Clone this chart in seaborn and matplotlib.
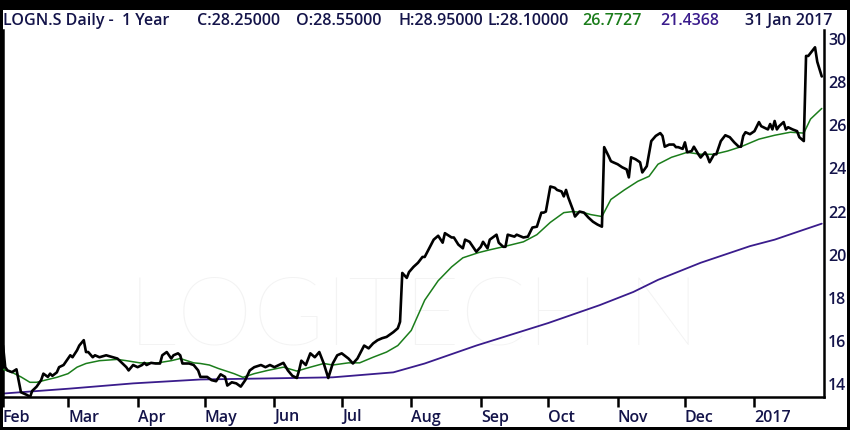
import pandas as pd
import matplotlib
matplotlib.use("Agg")
import matplotlib.pyplot as plt
from matplotlib.patches import Rectangle
import seaborn as sns

# ---- data ----
close_dates = [
    "2016-02-01", "2016-02-02", "2016-02-03", "2016-02-05", "2016-02-07", "2016-02-09", "2016-02-12",
    "2016-02-13", "2016-02-14", "2016-02-16", "2016-02-18", "2016-02-19", "2016-02-21", "2016-02-22",
    "2016-02-23", "2016-02-25", "2016-02-26", "2016-02-28",
    "2016-03-01", "2016-03-02", "2016-03-03", "2016-03-05", "2016-03-06", "2016-03-08", "2016-03-09",
    "2016-03-10", "2016-03-12", "2016-03-13", "2016-03-15", "2016-03-18", "2016-03-21", "2016-03-23",
    "2016-03-25", "2016-03-27", "2016-03-28", "2016-03-30",
    "2016-04-01", "2016-04-03", "2016-04-04", "2016-04-05", "2016-04-07", "2016-04-09", "2016-04-11",
    "2016-04-12", "2016-04-14", "2016-04-16", "2016-04-17", "2016-04-19", "2016-04-20", "2016-04-21",
    "2016-04-24", "2016-04-26", "2016-04-28", "2016-04-29", "2016-04-30",
    "2016-05-02", "2016-05-04", "2016-05-06", "2016-05-08", "2016-05-10", "2016-05-11", "2016-05-13",
    "2016-05-15", "2016-05-17", "2016-05-19", "2016-05-21", "2016-05-23", "2016-05-26", "2016-05-28",
    "2016-05-30",
    "2016-06-01", "2016-06-05", "2016-06-07", "2016-06-09", "2016-06-11", "2016-06-12", "2016-06-13",
    "2016-06-15", "2016-06-17", "2016-06-19", "2016-06-21", "2016-06-23", "2016-06-25", "2016-06-27",
    "2016-06-29",
    "2016-07-01", "2016-07-04", "2016-07-06", "2016-07-08", "2016-07-11", "2016-07-13", "2016-07-15",
    "2016-07-17", "2016-07-19", "2016-07-21", "2016-07-24", "2016-07-26", "2016-07-27", "2016-07-28",
    "2016-07-30", "2016-07-31",
    "2016-08-02", "2016-08-04", "2016-08-06", "2016-08-07", "2016-08-09", "2016-08-11", "2016-08-13",
    "2016-08-15", "2016-08-16", "2016-08-19", "2016-08-20", "2016-08-22", "2016-08-24", "2016-08-25",
    "2016-08-27", "2016-08-30",
    "2016-09-01", "2016-09-02", "2016-09-04", "2016-09-05", "2016-09-08", "2016-09-09", "2016-09-11",
    "2016-09-12", "2016-09-13", "2016-09-16", "2016-09-17", "2016-09-20", "2016-09-22", "2016-09-24",
    "2016-09-26", "2016-09-27", "2016-09-28", "2016-09-29", "2016-09-30",
    "2016-10-02", "2016-10-04", "2016-10-05", "2016-10-07", "2016-10-08", "2016-10-09", "2016-10-10",
    "2016-10-12", "2016-10-13", "2016-10-15", "2016-10-17", "2016-10-19", "2016-10-21", "2016-10-23",
    "2016-10-25", "2016-10-26", "2016-10-28", "2016-10-29", "2016-10-30",
    "2016-11-01", "2016-11-03", "2016-11-05", "2016-11-06", "2016-11-07", "2016-11-09", "2016-11-11",
    "2016-11-12", "2016-11-14", "2016-11-16", "2016-11-18", "2016-11-20", "2016-11-21", "2016-11-22",
    "2016-11-24", "2016-11-26", "2016-11-27", "2016-11-28", "2016-11-30",
    "2016-12-01", "2016-12-02", "2016-12-04", "2016-12-05", "2016-12-07", "2016-12-08", "2016-12-10",
    "2016-12-11", "2016-12-12", "2016-12-14", "2016-12-15", "2016-12-17", "2016-12-19", "2016-12-21",
    "2016-12-23", "2016-12-25", "2016-12-26", "2016-12-27", "2016-12-28", "2016-12-30",
    "2017-01-01", "2017-01-03", "2017-01-04", "2017-01-05", "2017-01-07", "2017-01-08", "2017-01-09",
    "2017-01-10", "2017-01-11", "2017-01-12", "2017-01-14", "2017-01-15", "2017-01-16", "2017-01-18",
    "2017-01-20", "2017-01-21", "2017-01-23", "2017-01-24", "2017-01-25", "2017-01-28", "2017-01-29",
    "2017-01-31",
]
close_vals = [
    15.8, 14.8, 14.65, 14.57, 14.7, 13.64, 13.5, 13.4, 13.7, 13.9, 14.2, 14.5, 14.35, 14.5,
    14.4, 14.56, 14.8, 14.9,
    15.2, 15.35, 15.26, 15.58, 15.8, 16.05, 15.5, 15.5, 15.26, 15.35, 15.26, 15.35, 15.26, 15.2,
    15.0, 14.8, 14.65, 14.9,
    14.8, 14.9, 15.0, 14.9, 15.0, 14.97, 14.97, 15.35, 15.5, 15.2, 15.35, 15.44, 15.35, 14.97,
    14.97, 14.9, 14.65, 14.35, 14.35,
    14.35, 14.2, 14.15, 14.47, 14.35, 13.95, 14.1, 14.05, 13.9, 14.2, 14.65, 14.8, 14.9, 14.8,
    14.9,
    14.8, 15.0, 14.65, 14.4, 14.3, 14.65, 15.1, 14.9, 15.44, 15.26, 15.5, 14.97, 14.3, 14.97,
    15.35,
    15.44, 15.2, 14.97, 15.2, 15.8, 15.67, 15.9, 16.05, 16.14, 16.2, 16.42, 16.6, 16.9, 19.16,
    18.93, 19.2,
    19.44, 19.63, 19.9, 19.9, 20.3, 20.7, 20.88, 20.56, 21.0, 20.8, 20.8, 20.47, 20.3, 20.7,
    20.6, 20.14,
    20.37, 20.6, 20.3, 20.7, 20.93, 20.56, 20.37, 20.37, 20.93, 20.84, 20.93, 20.8, 20.84, 21.26,
    21.3, 21.63, 21.95, 21.95, 22.0,
    23.16, 23.1, 23.0, 22.93, 22.7, 23.0, 22.65, 22.1, 21.77, 22.0, 21.95, 21.72, 21.53, 21.4,
    21.3, 24.98, 24.56, 24.33, 24.28,
    24.19, 24.05, 23.95, 23.58, 24.51, 24.42, 24.28, 23.81, 24.1, 25.26, 25.5, 25.63, 25.5, 25.0,
    25.1, 25.1, 24.98, 24.98, 24.9,
    25.2, 24.74, 24.8, 25.0, 24.65, 24.5, 24.74, 24.56, 24.28, 24.65, 24.65, 25.26, 25.53, 25.44,
    25.2, 25.0, 25.0, 25.5, 25.67, 25.58,
    25.72, 26.14, 25.95, 25.9, 25.8, 26.05, 25.8, 26.19, 25.8, 25.95, 26.14, 25.8, 25.9, 25.8,
    25.72, 25.44, 25.26, 29.2, 29.2, 29.6, 28.93, 28.25,
]

# short moving average (green)
ma_short_dates = [
    "2016-02-01", "2016-02-05", "2016-02-09", "2016-02-13", "2016-02-16", "2016-02-21", "2016-02-25",
    "2016-03-01", "2016-03-05", "2016-03-09", "2016-03-15", "2016-03-23", "2016-03-27", "2016-04-02",
    "2016-04-10", "2016-04-16", "2016-04-20", "2016-04-26", "2016-04-29", "2016-05-03", "2016-05-07",
    "2016-05-14", "2016-05-18", "2016-05-23", "2016-05-29", "2016-06-05", "2016-06-11", "2016-06-17",
    "2016-06-23", "2016-06-27", "2016-07-04", "2016-07-09", "2016-07-15", "2016-07-21", "2016-07-26",
    "2016-08-01", "2016-08-07", "2016-08-13", "2016-08-19", "2016-08-24", "2016-08-31", "2016-09-05",
    "2016-09-11", "2016-09-20", "2016-09-26", "2016-10-02", "2016-10-08", "2016-10-12", "2016-10-17",
    "2016-10-20", "2016-10-25", "2016-10-29", "2016-11-04", "2016-11-10", "2016-11-15", "2016-11-19",
    "2016-11-25", "2016-12-02", "2016-12-08", "2016-12-14", "2016-12-20", "2016-12-26", "2017-01-03",
    "2017-01-10", "2017-01-17", "2017-01-23", "2017-01-26", "2017-01-31",
]
ma_short_vals = [
    14.7, 14.56, 14.35, 14.1, 14.1, 14.23, 14.33, 14.5, 14.8, 14.97, 15.1, 15.16, 15.1, 15.0,
    15.0, 15.1, 15.2, 15.0, 14.97, 14.9, 14.74, 14.5, 14.33, 14.5, 14.65, 14.8, 14.62, 14.8,
    14.97, 14.9, 15.0, 15.0, 15.26, 15.5, 15.8, 16.5, 17.9, 18.8, 19.44, 19.86, 20.1, 20.23,
    20.37, 20.6, 20.93, 21.5, 21.95, 22.0, 21.95, 21.86, 21.77, 22.56, 23.0, 23.4, 23.63, 24.19,
    24.51, 24.74, 24.65, 24.65, 24.8, 25.0, 25.35, 25.53, 25.67, 25.63, 26.28, 26.77,
]

# long moving average (purple)
ma_long_dates = [
    "2016-02-01", "2016-03-02", "2016-03-30", "2016-04-29", "2016-05-29", "2016-06-27", "2016-07-24",
    "2016-08-07", "2016-08-30", "2016-10-01", "2016-10-24", "2016-11-08", "2016-11-19", "2016-12-08",
    "2016-12-30", "2017-01-10", "2017-01-23", "2017-01-31",
]
ma_long_vals = [
    13.58, 13.81, 14.05, 14.23, 14.28, 14.33, 14.56, 14.97, 15.8, 16.84, 17.67, 18.28, 18.84, 19.63,
    20.4, 20.7, 21.16, 21.44,
]

month_ticks = ["2016-02-01", "2016-03-01", "2016-04-01", "2016-05-01", "2016-06-01", "2016-07-01",
               "2016-08-01", "2016-09-01", "2016-10-01", "2016-11-01", "2016-12-01", "2017-01-01"]
month_labels = ["Feb", "Mar", "Apr", "May", "Jun", "Jul", "Aug", "Sep", "Oct", "Nov", "Dec", "2017"]
y_ticks = [14, 16, 18, 20, 22, 24, 26, 28, 30]

navy = "#14144a"
green = "#1b7d1b"
purple = "#3a1c8c"

sns.set_style("white")
plt.rcParams["font.family"] = ["Open Sans", "DejaVu Sans"]
plt.rcParams["font.weight"] = "semibold"

price_df = pd.DataFrame({"date": pd.to_datetime(close_dates), "close": close_vals})
short_df = pd.DataFrame({"date": pd.to_datetime(ma_short_dates), "ma": ma_short_vals})
long_df = pd.DataFrame({"date": pd.to_datetime(ma_long_dates), "ma": ma_long_vals})

fig = plt.figure(figsize=(8.5, 4.3), dpi=100)
ax = fig.add_axes([3 / 850, 33 / 430, 821 / 850, 367 / 430])

# faint watermark behind the lines
ax.text(0.50, 0.215, "LOGITECH N", transform=ax.transAxes, ha="center", va="center",
        fontsize=70, color="#f3f3f3", family=["Lato", "DejaVu Sans"], fontweight="light", zorder=0)

sns.lineplot(data=long_df, x="date", y="ma", color=purple, lw=1.3, ax=ax, zorder=2)
sns.lineplot(data=short_df, x="date", y="ma", color=green, lw=1.1, ax=ax, zorder=3)
sns.lineplot(data=price_df, x="date", y="close", color="black", lw=1.9, ax=ax, zorder=4)

ax.set_xlim(pd.Timestamp("2016-02-01"), pd.Timestamp("2017-02-01"))
ax.set_ylim(13.42, 30.4)
ax.set_xlabel("")
ax.set_ylabel("")

ax.set_xticks(pd.to_datetime(month_ticks))
ax.set_xticklabels(month_labels, ha="left")
ax.set_yticks(y_ticks)
ax.set_yticklabels([str(v) for v in y_ticks])
ax.yaxis.tick_right()
ax.tick_params(axis="x", direction="out", length=7, width=1.8, pad=2, labelsize=11.5,
               labelcolor=navy, color="black", bottom=True)
ax.tick_params(axis="y", length=0, pad=3, labelsize=11.5, labelcolor=navy, right=True, left=False)

for side in ["bottom", "right", "left"]:
    ax.spines[side].set_visible(True)
    ax.spines[side].set_color("black")
    ax.spines[side].set_linewidth(1.8)
ax.spines["top"].set_visible(False)

# header text
ty = 1 - 21 / 430
pieces = [
    (3, "LOGN.S Daily -  1 Year", navy),
    (197, "C:28.25000", navy),
    (296, "O:28.55000", navy),
    (398, "H:28.95000", navy),
    (487, "L:28.10000", navy),
    (582, "26.7727", green),
    (660, "21.4368", purple),
    (745, "31 Jan 2017", navy),
]
for px, txt, col in pieces:
    fig.text(px / 850, ty, txt, color=col, fontsize=11.5, ha="left", va="center")

# black frame round the picture
for rect in [(0, 1 - 10 / 430, 1, 10 / 430), (0, 0, 1, 3 / 430), (0, 0, 3 / 850, 1),
             (847 / 850, 0, 3 / 850, 1)]:
    fig.add_artist(Rectangle(rect[:2], rect[2], rect[3], transform=fig.transFigure,
                             facecolor="black", edgecolor="none", zorder=10))

fig.savefig("out.png", dpi=100)
